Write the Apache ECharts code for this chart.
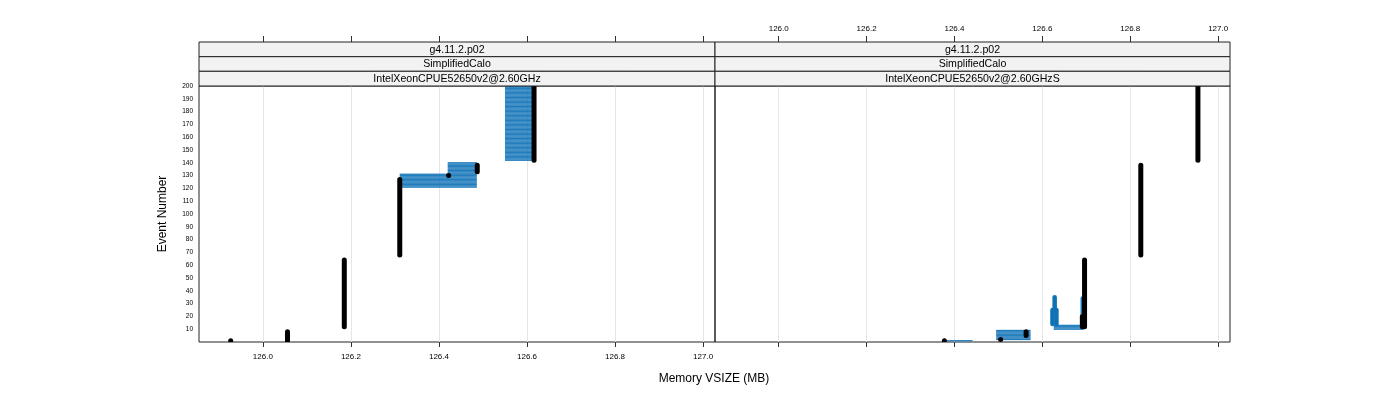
<!DOCTYPE html>
<html>
<head>
<meta charset="utf-8">
<script src="https://cdn.jsdelivr.net/npm/echarts@6/dist/echarts.min.js"></script>
<style>html,body{margin:0;padding:0;background:#fff;}#chart{width:1400px;height:400px;}</style>
</head>
<body>
<div id="chart"></div>
<script>
// ---- data ----
const xTicks = [126.0, 126.2, 126.4, 126.6, 126.8, 127.0];
const xRange = [125.855, 127.027];
const yRange = [0, 200];
const yStep = 10;
const stripRelease = ['g4.11.2.p02', 'g4.11.2.p02'];
const stripTest = ['SimplifiedCalo', 'SimplifiedCalo'];
const stripHost = ['IntelXeonCPUE52650v2@2.60GHz', 'IntelXeonCPUE52650v2@2.60GHzS'];
const xTitle = 'Memory VSIZE (MB)';
const yTitle = 'Event Number';

// black point runs: [vsize MB, first event, last event]
const leftBlack = [
  [125.927, 1, 1], [126.056, 1, 8], [126.185, 12, 64], [126.311, 68, 127],
  [126.422, 130, 130], [126.487, 133, 138], [126.616, 142, 200]
];
const rightBlack = [
  [126.377, 1, 1], [126.505, 2, 2], [126.563, 5, 8], [126.696, 12, 64],
  [126.691, 12, 20], [126.824, 68, 138], [126.954, 142, 200]
];
// blue blocks: [vsize from, vsize to, first event, last event]
const leftBlueBlocks = [
  [126.311, 126.486, 121, 131], [126.420, 126.486, 132, 140], [126.550, 126.614, 142, 200]
];
const rightBlueBlocks = [
  [126.377, 126.441, 1, 1], [126.495, 126.573, 2, 9], [126.626, 126.694, 10, 13]
];
// blue point runs: [vsize MB, first event, last event]
const leftBlueRuns = [];
const rightBlueRuns = [
  [126.628, 25, 35], [126.623, 14, 25], [126.632, 14, 25], [126.692, 12, 34]
];

// ---- rendering ----
const FONT = 'Liberation Sans';
const BLUE = '#0f72b5';
const chart = echarts.init(document.getElementById('chart'), null, {renderer: 'canvas'});

function blockItem(params, api) {
  const x0 = api.value(0), x1 = api.value(1), e0 = api.value(2), e1 = api.value(3);
  const pa = api.coord([x0, e1]), pb = api.coord([x1, e0]);
  const children = [{
    type: 'rect',
    shape: {x: pa[0], y: pa[1] - 0.7, width: pb[0] - pa[0], height: pb[1] - pa[1] + 1.4},
    style: {fill: 'rgba(40,130,195,0.55)'}
  }];
  for (let e = e0; e <= e1; e++) {
    const p0 = api.coord([x0, e]), p1 = api.coord([x1, e]);
    children.push({type: 'line', shape: {x1: p0[0], y1: p0[1], x2: p1[0], y2: p1[1]},
      style: {stroke: BLUE, lineWidth: 0.9}});
  }
  return {type: 'group', children};
}
function runItem(color, width) {
  return function (params, api) {
    const x = api.value(0), e0 = api.value(1), e1 = api.value(2);
    const p0 = api.coord([x, e0]), p1 = api.coord([x, e1]);
    if (e0 === e1) {
      return {type: 'circle', shape: {cx: p0[0], cy: p0[1], r: width / 2}, style: {fill: color}};
    }
    return {type: 'line', shape: {x1: p0[0], y1: p0[1], x2: p1[0], y2: p1[1]},
      style: {stroke: color, lineWidth: width, lineCap: 'round'}};
  };
}

const grids = [
  {left: 199, top: 86, width: 516, height: 256},
  {left: 715, top: 86, width: 515, height: 256}
];
const tickLabelStyle = {fontFamily: FONT, fontSize: 8, color: '#000'};

function xAxisBottom(gi, labels) {
  return {
    type: 'value', gridIndex: gi, position: 'bottom', min: xRange[0], max: xRange[1],
    axisLine: {show: false},
    axisTick: {show: true, length: 5, customValues: xTicks, lineStyle: {color: '#333'}},
    axisLabel: Object.assign({show: labels, customValues: xTicks, margin: 11,
      formatter: v => v.toFixed(1)}, tickLabelStyle),
    splitLine: {show: true, lineStyle: {color: '#e6e6e6', width: 1}}
  };
}
function xAxisTop(gi, labels) {
  return {
    type: 'value', gridIndex: gi, position: 'top', offset: 44, min: xRange[0], max: xRange[1],
    axisLine: {show: false},
    axisTick: {show: true, length: 6, customValues: xTicks, lineStyle: {color: '#333'}},
    axisLabel: Object.assign({show: labels, customValues: xTicks, margin: 9,
      formatter: v => v.toFixed(1)}, tickLabelStyle),
    splitLine: {show: false}
  };
}

const graphics = [];
const stripRows = [stripRelease, stripTest, stripHost];
const stripY = [42, 56.7, 71.3, 86];
grids.forEach((g, gi) => {
  stripRows.forEach((row, ri) => {
    graphics.push({
      type: 'rect', z: 10,
      shape: {x: g.left, y: stripY[ri], width: g.width, height: stripY[ri + 1] - stripY[ri]},
      style: {fill: '#f2f2f2', stroke: '#222', lineWidth: 1}
    });
    graphics.push({
      type: 'text', z: 11,
      x: g.left + g.width / 2, y: (stripY[ri] + stripY[ri + 1]) / 2 + 0.5,
      style: {text: row[gi], font: '10.6px "' + FONT + '"', fill: '#000', align: 'center', verticalAlign: 'middle'}
    });
  });
});
graphics.push({type: 'text', x: 714, y: 379,
  style: {text: xTitle, font: '12px "' + FONT + '"', fill: '#000', align: 'center', verticalAlign: 'middle'}});
graphics.push({type: 'text', x: 163, y: 214, rotation: Math.PI / 2,
  style: {text: yTitle, font: '12px "' + FONT + '"', fill: '#000', align: 'center', verticalAlign: 'middle'}});

function seriesFor(gi, blocks, blueRuns, blackRuns) {
  return [
    {type: 'custom', xAxisIndex: gi * 2, yAxisIndex: gi, data: blocks, renderItem: blockItem, clip: true, silent: true},
    {type: 'custom', xAxisIndex: gi * 2, yAxisIndex: gi, data: blueRuns, renderItem: runItem(BLUE, 4.5), clip: true, silent: true},
    {type: 'custom', xAxisIndex: gi * 2, yAxisIndex: gi, data: blackRuns, renderItem: runItem('#000', 5), clip: true, silent: true}
  ];
}

chart.setOption({
  animation: false,
  backgroundColor: '#fff',
  textStyle: {fontFamily: FONT},
  grid: grids.map(g => Object.assign({show: true, borderColor: '#222', borderWidth: 1, backgroundColor: 'transparent'}, g)),
  xAxis: [xAxisBottom(0, true), xAxisTop(0, false), xAxisBottom(1, false), xAxisTop(1, true)],
  yAxis: [0, 1].map(gi => ({
    type: 'value', gridIndex: gi, min: yRange[0], max: yRange[1], interval: yStep,
    axisLine: {show: false}, axisTick: {show: false}, splitLine: {show: false},
    axisLabel: {show: gi === 0, fontFamily: FONT, fontSize: 6.5, color: '#000', margin: 6,
      formatter: v => (v === 0 ? '' : String(v))}
  })),
  series: seriesFor(0, leftBlueBlocks, leftBlueRuns, leftBlack).concat(
          seriesFor(1, rightBlueBlocks, rightBlueRuns, rightBlack)),
  graphic: graphics
});
</script>
</body>
</html>
